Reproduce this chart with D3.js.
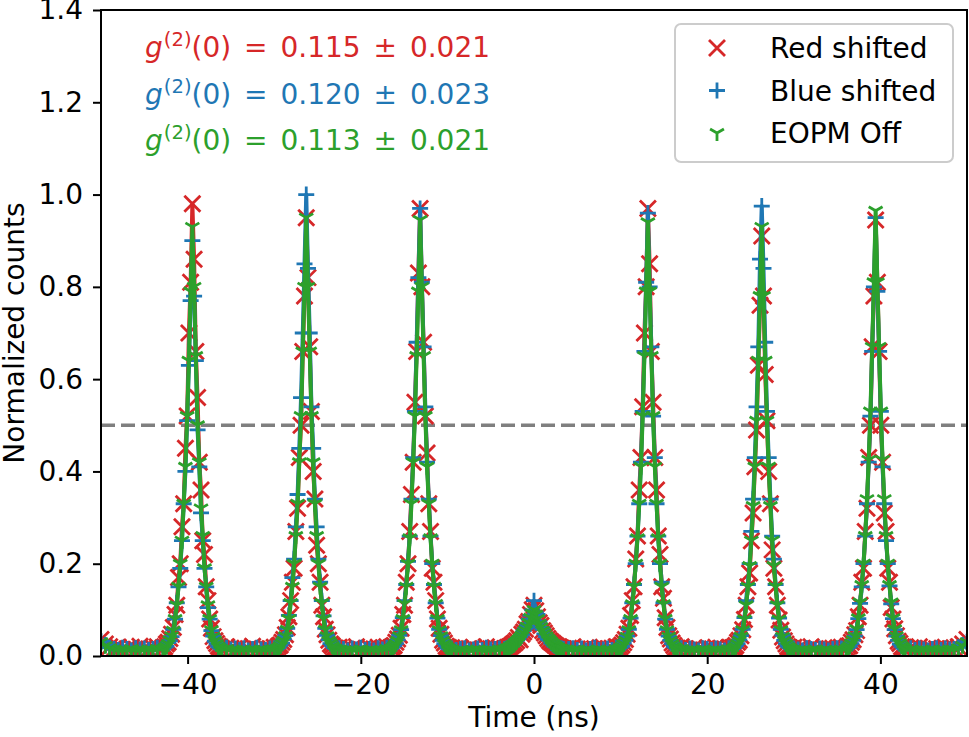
<!DOCTYPE html>
<html lang="en">
<head>
<meta charset="UTF-8">
<title>Normalized counts vs time</title>
<script src="https://d3js.org/d3.v7.min.js"></script>
<style>
  body { margin: 0; background: #fff; }
  text { font-family: "DejaVu Sans", sans-serif; }
</style>
</head>
<body>
<svg width="969" height="737"></svg>
<script>
// peak centres (ns); each peak is sampled on 35 bins from -3.4 to +3.4 ns
const peakCenters = [-39.45, -26.3, -13.15, 0, 13.15, 26.3, 39.45];
const peakOffsets = d3.range(-3.4, 3.41, 0.2);
// baseline bins (0.5 ns) between the peak windows: 14,12,12,12,12,12,12,14 per gap
const baseTimes = d3.range(-50, 50.01, 0.5)
  .filter(t => peakCenters.every(c => Math.abs(t - c) > 3.6));

const redPeaks = [
  [.018,.02,.026,.03,.038,.047,.062,.09,.11,.17,.2,.28,.33,.45,.52,.7,.81,.98,.86,.66,.56,.42,.36,.25,.22,.15,.12,.08,.06,.042,.033,.027,.021,.019,.016],
  [.017,.021,.024,.03,.036,.046,.062,.085,.12,.16,.19,.27,.32,.43,.50,.66,.78,.95,.82,.67,.53,.40,.34,.24,.20,.16,.11,.085,.058,.046,.034,.026,.022,.018,.017],
  [.018,.02,.023,.03,.037,.045,.06,.09,.11,.16,.2,.27,.35,.42,.55,.66,.83,.97,.80,.68,.52,.44,.33,.27,.19,.16,.12,.08,.06,.047,.034,.028,.021,.019,.017],
  [.016,.017,.019,.02,.023,.026,.029,.033,.04,.035,.047,.052,.058,.07,.075,.09,.1,.11,.098,.085,.072,.066,.055,.05,.044,.038,.033,.03,.027,.024,.021,.019,.018,.017,.016],
  [.017,.02,.024,.029,.036,.047,.06,.088,.12,.15,.21,.26,.36,.43,.54,.70,.80,.97,.85,.66,.55,.43,.36,.26,.22,.15,.125,.083,.062,.044,.037,.028,.023,.018,.017],
  [.018,.019,.023,.03,.034,.044,.057,.079,.11,.15,.18,.25,.31,.41,.49,.63,.76,.91,.78,.61,.51,.40,.33,.23,.19,.15,.11,.078,.056,.041,.033,.026,.02,.018,.016],
  [.017,.021,.022,.03,.035,.046,.055,.085,.11,.16,.19,.27,.32,.43,.5,.67,.78,.945,.81,.66,.5,.42,.31,.27,.19,.16,.105,.08,.059,.044,.032,.027,.02,.019,.016]
];
const bluePeaks = [
  [.015,.019,.021,.029,.033,.042,.058,.08,.115,.15,.19,.25,.33,.40,.51,.63,.77,.90,.78,.64,.49,.41,.31,.25,.19,.15,.105,.08,.055,.043,.032,.026,.02,.017,.015],
  [.016,.018,.023,.028,.037,.044,.06,.088,.12,.17,.21,.28,.35,.45,.56,.70,.85,1.0,.84,.70,.54,.45,.34,.28,.21,.16,.12,.087,.06,.045,.035,.027,.022,.018,.016],
  [.016,.019,.022,.027,.035,.045,.057,.083,.12,.155,.205,.26,.34,.43,.53,.68,.82,.97,.81,.67,.54,.42,.34,.26,.2,.155,.115,.082,.058,.044,.034,.027,.022,.017,.015],
  [.015,.016,.018,.021,.022,.025,.03,.034,.037,.042,.046,.055,.06,.066,.08,.088,.1,.12,.095,.09,.075,.062,.058,.048,.042,.036,.034,.028,.025,.022,.02,.018,.017,.016,.015],
  [.015,.018,.021,.028,.034,.043,.058,.082,.115,.155,.2,.26,.33,.42,.53,.66,.81,.96,.80,.67,.52,.43,.33,.26,.2,.16,.115,.08,.058,.043,.034,.027,.021,.018,.015],
  [.016,.018,.022,.027,.035,.044,.058,.083,.12,.155,.2,.27,.34,.43,.54,.67,.86,.975,.84,.68,.53,.43,.34,.26,.21,.155,.115,.082,.058,.045,.034,.027,.021,.018,.016],
  [.015,.018,.021,.027,.034,.043,.057,.081,.114,.15,.2,.26,.33,.42,.52,.66,.80,.95,.79,.66,.53,.41,.33,.25,.2,.152,.113,.081,.057,.043,.034,.026,.021,.017,.015]
];
const greenPeaks = [
  [.014,.017,.02,.026,.034,.043,.055,.08,.11,.15,.2,.25,.33,.41,.52,.64,.79,.93,.8,.65,.5,.42,.32,.26,.19,.15,.11,.08,.056,.042,.033,.026,.02,.016,.014],
  [.015,.017,.021,.027,.033,.043,.057,.08,.115,.15,.2,.26,.33,.42,.52,.66,.8,.95,.8,.66,.52,.42,.33,.26,.2,.15,.115,.08,.057,.043,.033,.027,.021,.017,.015],
  [.015,.017,.021,.026,.033,.043,.056,.08,.113,.15,.2,.255,.33,.42,.52,.65,.79,.945,.8,.65,.52,.41,.33,.255,.2,.15,.113,.08,.056,.043,.033,.026,.021,.017,.015],
  [.014,.015,.017,.019,.021,.024,.027,.031,.035,.039,.044,.05,.056,.064,.072,.083,.092,.10,.09,.08,.07,.063,.055,.049,.043,.038,.034,.03,.026,.023,.02,.018,.016,.015,.014],
  [.014,.017,.02,.026,.033,.042,.056,.08,.112,.15,.2,.255,.33,.41,.52,.65,.79,.94,.79,.65,.52,.41,.33,.255,.2,.15,.112,.08,.056,.042,.033,.026,.02,.017,.014],
  [.014,.017,.02,.026,.033,.042,.056,.079,.11,.15,.195,.25,.325,.41,.51,.64,.78,.93,.78,.64,.51,.41,.325,.25,.195,.15,.11,.079,.056,.042,.033,.026,.02,.017,.014],
  [.014,.017,.021,.027,.034,.043,.058,.082,.116,.154,.2,.26,.34,.425,.53,.67,.81,.965,.81,.67,.53,.425,.34,.26,.2,.154,.116,.082,.058,.043,.034,.027,.021,.017,.014]
];

const redBase = [
  [.036,.026,.02,.016,.019,.014,.015,.019,.014,.021,.017,.015,.018,.02],
  [.02,.017,.014,.019,.013,.016,.021,.015,.012,.018,.016,.019],
  [.019,.016,.013,.017,.02,.014,.012,.018,.015,.019,.017,.02],
  [.018,.014,.017,.012,.016,.019,.013,.015,.02,.016,.018,.017],
  [.017,.02,.015,.013,.018,.014,.016,.012,.019,.015,.017,.02],
  [.02,.016,.013,.018,.015,.012,.017,.014,.019,.016,.015,.018],
  [.019,.015,.017,.013,.02,.016,.012,.018,.014,.017,.015,.019],
  [.018,.015,.02,.013,.017,.014,.016,.012,.019,.015,.018,.02,.026,.036]
];
const blueBase = [
  [.032,.024,.018,.015,.013,.018,.015,.012,.017,.014,.016,.013,.015,.018],
  [.018,.014,.016,.013,.017,.012,.015,.018,.014,.013,.016,.017],
  [.017,.015,.012,.016,.014,.018,.013,.015,.012,.017,.014,.018],
  [.016,.013,.015,.017,.012,.014,.016,.013,.018,.014,.015,.016],
  [.015,.017,.013,.016,.012,.015,.018,.013,.014,.016,.013,.018],
  [.017,.013,.016,.014,.012,.017,.015,.013,.016,.014,.012,.017],
  [.016,.014,.012,.017,.015,.013,.016,.014,.012,.015,.017,.016],
  [.017,.013,.016,.014,.012,.015,.017,.013,.016,.014,.015,.019,.024,.031]
];
const greenBase = [
  [.03,.022,.017,.014,.011,.013,.012,.015,.011,.013,.012,.014,.012,.015],
  [.015,.012,.013,.011,.014,.012,.013,.011,.014,.012,.013,.014],
  [.014,.012,.011,.013,.012,.014,.011,.013,.012,.011,.013,.015],
  [.014,.011,.013,.012,.011,.013,.014,.012,.011,.013,.012,.014],
  [.013,.012,.014,.011,.013,.012,.011,.014,.012,.013,.011,.014],
  [.015,.012,.011,.013,.012,.014,.011,.012,.013,.011,.012,.014],
  [.014,.012,.013,.011,.012,.014,.011,.013,.012,.011,.013,.014],
  [.014,.012,.011,.013,.012,.014,.011,.013,.012,.014,.013,.017,.022,.03]
];

const seriesNames = ["Red shifted", "Blue shifted", "EOPM Off"];
const seriesColors = ["#d62728", "#1f77b4", "#2ca02c"];
const seriesMarkers = ["x", "plus", "tri"];
const g2Labels = ["0.115 ± 0.021", "0.120 ± 0.023", "0.113 ± 0.021"];
const xTicks = [-40, -20, 0, 20, 40];
const yTicks = [0, 0.2, 0.4, 0.6, 0.8, 1.0, 1.2, 1.4];
const halfLevel = 0.5;

const width = 969, height = 737;
const margin = { top: 10, right: 2, bottom: 81, left: 101 };
const fontSize = 28;

function buildSeries(peaks, base) {
  const pts = [];
  peakCenters.forEach((c, k) =>
    peakOffsets.forEach((o, j) => pts.push({ t: c + o, v: peaks[k][j] })));
  const flat = base.flat();
  baseTimes.forEach((t, i) => { if (flat[i] != null) pts.push({ t, v: flat[i] }); });
  return pts.sort((a, b) => a.t - b.t);
}
const allSeries = [
  buildSeries(redPeaks, redBase),
  buildSeries(bluePeaks, blueBase),
  buildSeries(greenPeaks, greenBase)
];

const x = d3.scaleLinear().domain([-50, 50]).range([margin.left, width - margin.right]);
const y = d3.scaleLinear().domain([0, 1.4]).range([height - margin.bottom, margin.top]);

const svg = d3.select("svg");

svg.append("clipPath").attr("id", "plot-clip")
  .append("rect")
  .attr("x", margin.left).attr("y", margin.top)
  .attr("width", width - margin.left - margin.right)
  .attr("height", height - margin.top - margin.bottom);

// marker shapes (size in px)
function markerPath(kind, s) {
  const r = s / 2;
  if (kind === "x") return `M${-r},${-r}L${r},${r}M${-r},${r}L${r},${-r}`;
  if (kind === "plus") return `M${-r},0L${r},0M0,${-r}L0,${r}`;
  // tri_down
  return `M0,0L0,${r}M0,0L${-0.866 * r},${-0.5 * r}M0,0L${0.866 * r},${-0.5 * r}`;
}

const plot = svg.append("g").attr("clip-path", "url(#plot-clip)");

// half-maximum reference line
plot.append("line")
  .attr("x1", x(-50)).attr("x2", x(50))
  .attr("y1", y(halfLevel)).attr("y2", y(halfLevel))
  .attr("stroke", "#7f7f7f")
  .attr("stroke-width", 3.5)
  .attr("stroke-dasharray", "14,6");

const line = d3.line().x(d => x(d.t)).y(d => y(d.v));

allSeries.forEach((data, i) => {
  const g = plot.append("g");
  g.append("path")
    .datum(data)
    .attr("fill", "none")
    .attr("stroke", seriesColors[i])
    .attr("stroke-width", 4)
    .attr("stroke-linejoin", "round")
    .attr("d", line);
  g.selectAll(".m")
    .data(data)
    .join("path")
    .attr("class", "m")
    .attr("transform", d => `translate(${x(d.t)},${y(d.v)})`)
    .attr("d", markerPath(seriesMarkers[i], 16))
    .attr("fill", "none")
    .attr("stroke", seriesColors[i])
    .attr("stroke-width", 2.8);
});

// axes
const xAxis = svg.append("g")
  .attr("transform", `translate(0,${height - margin.bottom})`)
  .call(d3.axisBottom(x).tickValues(xTicks).tickSize(8).tickPadding(10).tickFormat(d3.format("d")));
const yAxis = svg.append("g")
  .attr("transform", `translate(${margin.left},0)`)
  .call(d3.axisLeft(y).tickValues(yTicks).tickSize(8).tickPadding(10).tickFormat(d3.format(".1f")));
[xAxis, yAxis].forEach(a => {
  a.select(".domain").remove();
  a.selectAll(".tick line").attr("stroke", "#000").attr("stroke-width", 2);
  a.selectAll(".tick text").attr("font-size", fontSize).attr("fill", "#000")
    .attr("font-family", "DejaVu Sans");
});

// frame
svg.append("rect")
  .attr("x", margin.left).attr("y", margin.top)
  .attr("width", width - margin.left - margin.right)
  .attr("height", height - margin.top - margin.bottom)
  .attr("fill", "none").attr("stroke", "#000").attr("stroke-width", 2);

// axis labels
svg.append("text")
  .attr("x", x(0)).attr("y", 727)
  .attr("text-anchor", "middle").attr("font-size", fontSize)
  .text("Time (ns)");
svg.append("text")
  .attr("transform", `translate(24,${(margin.top + height - margin.bottom) / 2}) rotate(-90)`)
  .attr("text-anchor", "middle").attr("font-size", fontSize)
  .text("Normalized counts");

// g2(0) annotations
g2Labels.forEach((lab, i) => {
  const t = svg.append("text")
    .attr("x", 145).attr("y", 57 + i * 46.5)
    .attr("font-size", fontSize).attr("fill", seriesColors[i])
    .attr("word-spacing", 4);
  t.append("tspan").attr("font-style", "italic").text("g");
  t.append("tspan").attr("font-size", fontSize * 0.7).attr("dy", -11).attr("dx", 1).text("(2)");
  t.append("tspan").attr("dy", 11).text(`(0) = ${lab}`);
});

// legend
const legend = svg.append("g");
legend.append("rect")
  .attr("x", 675).attr("y", 24).attr("width", 278).attr("height", 138)
  .attr("rx", 6).attr("fill", "#fff").attr("fill-opacity", 0.8)
  .attr("stroke", "#cccccc").attr("stroke-width", 2);
seriesNames.forEach((name, i) => {
  const cy = 48 + i * 42.5;
  legend.append("path")
    .attr("transform", `translate(717,${cy})`)
    .attr("d", markerPath(seriesMarkers[i], 16))
    .attr("fill", "none").attr("stroke", seriesColors[i]).attr("stroke-width", 2.8);
  legend.append("text")
    .attr("x", 770).attr("y", cy + 10)
    .attr("font-size", fontSize).attr("fill", "#000")
    .text(name);
});
</script>
</body>
</html>
